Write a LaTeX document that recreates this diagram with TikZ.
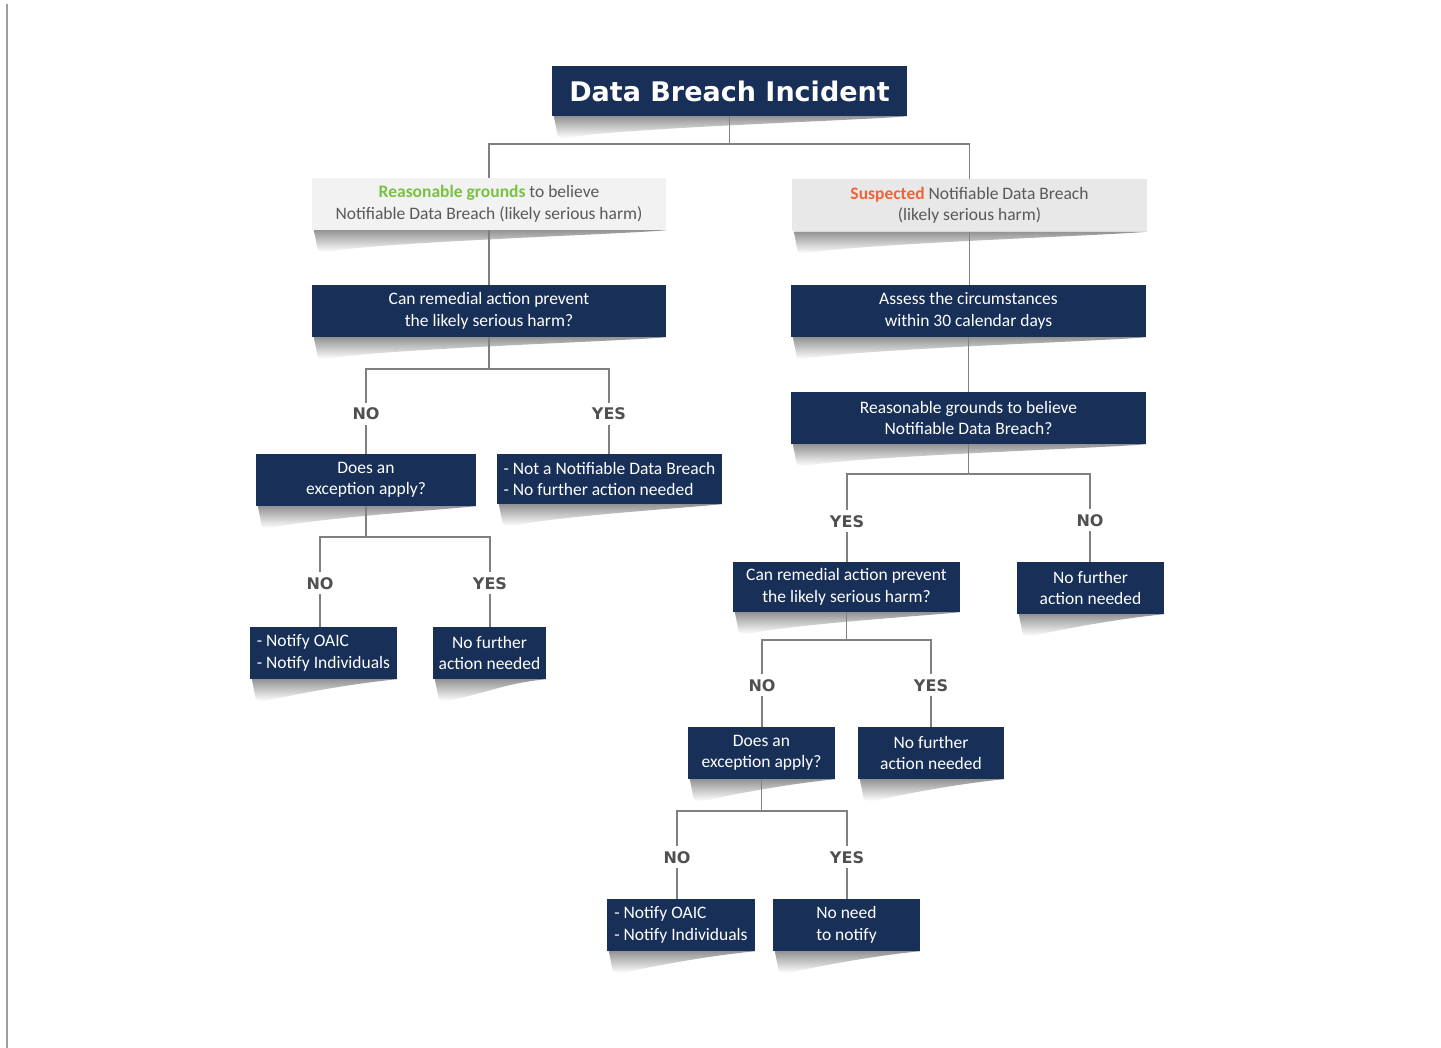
\documentclass[tikz,border=0pt]{standalone}
\usepackage{fontspec}
\setmainfont{Carlito}
\newfontfamily\vfont{DejaVu Sans}
\usetikzlibrary{calc}
\pgfdeclarelayer{bg}
\pgfsetlayers{bg,main}
\definecolor{navy}{RGB}{24,47,87}
\definecolor{lineg}{RGB}{128,128,128}
\definecolor{greytxt}{RGB}{89,89,89}
\definecolor{greenT}{RGB}{122,193,67}
\definecolor{orangeT}{RGB}{240,100,55}
\definecolor{greyfillA}{RGB}{242,242,242}
\definecolor{greyfillB}{RGB}{232,232,232}
\definecolor{labcol}{RGB}{80,80,80}
\tikzset{
 base/.style={minimum height=52, inner sep=2, align=center, font=\fontsize{17.5}{21.5}\selectfont},
 navybox/.style={base, fill=navy, text=white},
 greybox/.style={base, text=greytxt},
 lab/.style={font=\vfont\bfseries\fontsize{16}{18}\selectfont, text=labcol, text height=12, text depth=0, inner sep=5},
 conn/.style={draw=lineg, line width=1.5},
 border/.style={draw=gray!75, line width=2}
}
\newcommand\boxshadow[1]{%
 \shade[top color=black!42, middle color=black!14, bottom color=white]
 ([xshift=2pt]#1.south west) -- (#1.south east)
 .. controls ([xshift=-40pt,yshift=-4pt]#1.south east) and ([xshift=60pt,yshift=-12pt]#1.south west)
 .. ([xshift=14pt,yshift=-22pt]#1.south west) -- ([xshift=6pt,yshift=-20pt]#1.south west) -- cycle;}
\begin{document}
\begin{tikzpicture}[x=1pt,y=-1pt]
\useasboundingbox (0,0) rectangle (1441,1048);
\draw[border] (7,4) -- (7,1048);

% nodes
\node[navybox, font=\vfont\bfseries\fontsize{27}{30}\selectfont, minimum width=355, minimum height=50] (title) at (729.5,91) {Data Breach Incident};
\node[greybox, fill=greyfillA, minimum width=354] (g1) at (489,204) {{\color{greenT}\bfseries Reasonable grounds} to believe\\Notifiable Data Breach (likely serious harm)};
\node[greybox, fill=greyfillB, minimum width=355] (g2) at (969.5,205.5) {{\color{orangeT}\bfseries Suspected} Notifiable Data Breach\\(likely serious harm)};
\node[navybox, minimum width=354] (q1) at (489,311) {Can remedial action prevent\\the likely serious harm?};
\node[navybox, minimum width=355] (a1) at (968.5,311) {Assess the circumstances\\within 30 calendar days};
\node[navybox, minimum width=355] (r1) at (968.5,418) {Reasonable grounds to believe\\Notifiable Data Breach?};

\node[lab] (n1) at (366,414) {NO};
\node[lab] (y1) at (609,414) {YES};
\node[navybox, minimum width=220] (e1) at (366,480) {Does an\\exception apply?};
\node[navybox, minimum width=225, minimum height=50, align=left] (nn1) at (609.5,479) {- Not a Notifiable Data Breach\\- No further action needed};
\node[lab] (n2) at (320,583) {NO};
\node[lab] (y2) at (490,583) {YES};
\node[navybox, minimum width=147, align=left] (o1) at (323.5,653) {- Notify OAIC\\- Notify Individuals};
\node[navybox, minimum width=113] (f1) at (489.5,653) {No further\\action needed};

\node[lab] (y3) at (847,521) {YES};
\node[lab] (n3) at (1090,520) {NO};
\node[navybox, minimum width=227, minimum height=50] (q2) at (846.5,587) {Can remedial action prevent\\the likely serious harm?};
\node[navybox, minimum width=147] (f2) at (1090.5,588) {No further\\action needed};
\node[lab] (n4) at (762,685) {NO};
\node[lab] (y4) at (931,685) {YES};
\node[navybox, minimum width=147] (e2) at (761.5,753) {Does an\\exception apply?};
\node[navybox, minimum width=146] (f3) at (931,753) {No further\\action needed};
\node[lab] (n5) at (677,857) {NO};
\node[lab] (y5) at (847,857) {YES};
\node[navybox, minimum width=148, align=left] (o2) at (681,925) {- Notify OAIC\\- Notify Individuals};
\node[navybox, minimum width=147, align=left] (f4) at (846.5,925) {No need\\to notify};

% junctions
\coordinate (j0) at (729.5,144);
\coordinate (j1) at (489,369);
\coordinate (j2) at (366,537);
\coordinate (j3) at (968.5,474);
\coordinate (j4) at (846.5,640);
\coordinate (j5) at (761.5,811);

% connectors
\draw[conn] (title.south) -- (j0) -| (g1.north);
\draw[conn] (j0) -| (g2.north);
\draw[conn] (g1.south) -- (q1.north);
\draw[conn] (g2.south) -- (g2.south |- a1.north);
\draw[conn] (a1.south) -- (a1.south |- r1.north);

\draw[conn] (q1.south) -- (j1) -| (n1.north);
\draw[conn] (j1) -| (y1.north);
\draw[conn] (n1.south) -- (n1.south |- e1.north);
\draw[conn] (y1.south) -- (y1.south |- nn1.north);
\draw[conn] (e1.south) -- (j2) -| (n2.north);
\draw[conn] (j2) -| (y2.north);
\draw[conn] (n2.south) -- (n2.south |- o1.north);
\draw[conn] (y2.south) -- (y2.south |- f1.north);

\draw[conn] (r1.south) -- (j3) -| (y3.north);
\draw[conn] (j3) -| (n3.north);
\draw[conn] (y3.south) -- (y3.south |- q2.north);
\draw[conn] (n3.south) -- (n3.south |- f2.north);
\draw[conn] (q2.south) -- (j4) -| (n4.north);
\draw[conn] (j4) -| (y4.north);
\draw[conn] (n4.south) -- (n4.south |- e2.north);
\draw[conn] (y4.south) -- (y4.south |- f3.north);
\draw[conn] (e2.south) -- (j5) -| (n5.north);
\draw[conn] (j5) -| (y5.north);
\draw[conn] (n5.south) -- (n5.south |- o2.north);
\draw[conn] (y5.south) -- (y5.south |- f4.north);

\begin{pgfonlayer}{bg}
\fill[white] (0,0) rectangle (1441,1048);
\foreach \b in {title,g1,g2,q1,a1,r1,e1,nn1,o1,f1,q2,f2,e2,f3,o2,f4}{\boxshadow{\b}}
\end{pgfonlayer}
\end{tikzpicture}
\end{document}
